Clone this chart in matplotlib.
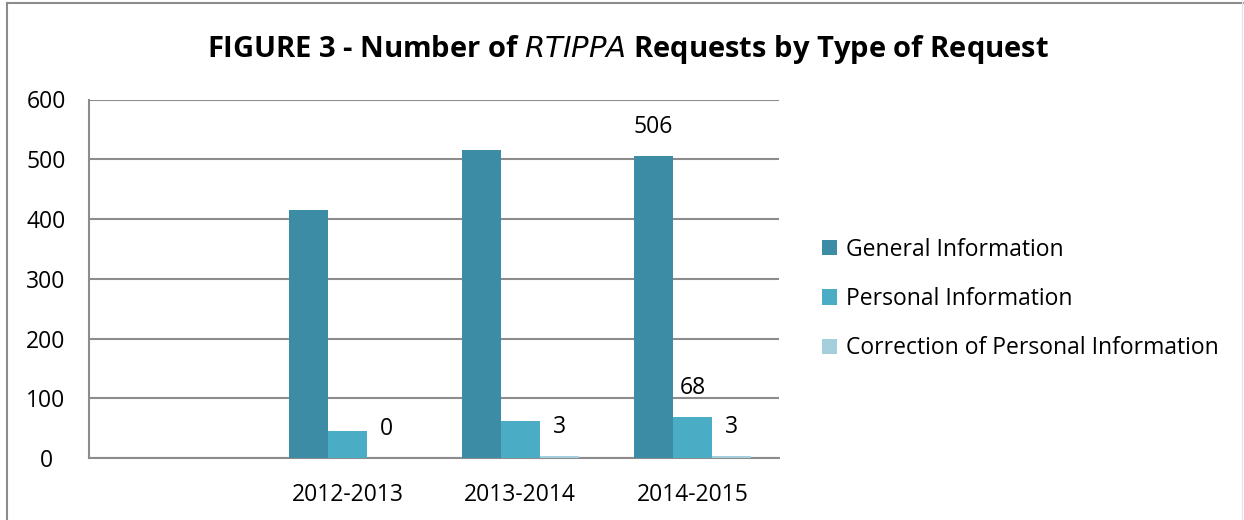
import numpy as np
import matplotlib.pyplot as plt
from matplotlib.lines import Line2D

# data
categories = ['', '2012-2013', '2013-2014', '2014-2015']
general = [0, 415, 516, 506]
personal = [0, 45, 62, 68]
correction = [0, 0, 3, 3]
series_names = ['General Information', 'Personal Information',
                'Correction of Personal Information']
colors = ['#3C8CA5', '#4BACC6', '#A5CFDC']

# labels shown in the original (series index, category index)
shown_labels = [(2, 1), (2, 2), (0, 3), (1, 3), (2, 3)]

plt.rcParams['font.family'] = ['Open Sans', 'DejaVu Sans']

fig = plt.figure(figsize=(12.44, 5.2), dpi=100)
ax = fig.add_axes([89 / 1244, 1 - 458 / 520, 690 / 1244, 358.5 / 520])

x = np.arange(len(categories))
w = 0.227
data = [general, personal, correction]
for i, (vals, name, c) in enumerate(zip(data, series_names, colors)):
    ax.bar(x[1:] + (i - 1) * w, vals[1:], w, color=c, label=name, zorder=3)

for s, k in shown_labels:
    ax.annotate(str(data[s][k]), (x[k] + (s - 1) * w, data[s][k]),
                xytext=(0, 29), textcoords='offset pixels',
                ha='center', va='center', fontsize=16.5, color='#000000')

ax.set_xlim(-0.5, 3.5)
ax.set_ylim(0, 600)
ax.set_yticks(range(0, 601, 100))
ax.set_xticks(x)
ax.set_xticklabels(categories)
ax.yaxis.grid(True, color='#8C8C8C', linewidth=1.5, zorder=0)
for sp in ['right', 'top']:
    ax.spines[sp].set_visible(False)
for sp in ['left', 'bottom']:
    ax.spines[sp].set_color('#8C8C8C')
    ax.spines[sp].set_linewidth(1.5)
ax.tick_params(axis='x', length=0, labelsize=16.5, pad=18)
ax.tick_params(axis='y', length=0, labelsize=16.5, pad=31)
for lbl in ax.get_yticklabels():
    lbl.set_horizontalalignment('center')

fig.text(0.505, 0.905, 'FIGURE 3 - Number of $\\mathit{RTIPPA}$ Requests by Type of Request',
         ha='center', va='center', fontsize=21, fontweight='bold')

ax.legend(loc='center left', bbox_to_anchor=(801 / 1244, 1 - 299 / 520),
          bbox_transform=fig.transFigure, frameon=False, fontsize=16.5,
          handlelength=0.65, handleheight=0.65, handletextpad=0.4, labelspacing=1.1)

fig.add_artist(Line2D([7 / 1244, 7 / 1244], [0, 1 - 3 / 520], color='#8C8C8C', lw=1.5))
fig.add_artist(Line2D([7 / 1244, 1], [1 - 3 / 520, 1 - 3 / 520], color='#8C8C8C', lw=1.5))
fig.add_artist(Line2D([1242 / 1244, 1242 / 1244], [0, 1], color='#E6E6E6', lw=1))

fig.savefig('out.png', dpi=100)
